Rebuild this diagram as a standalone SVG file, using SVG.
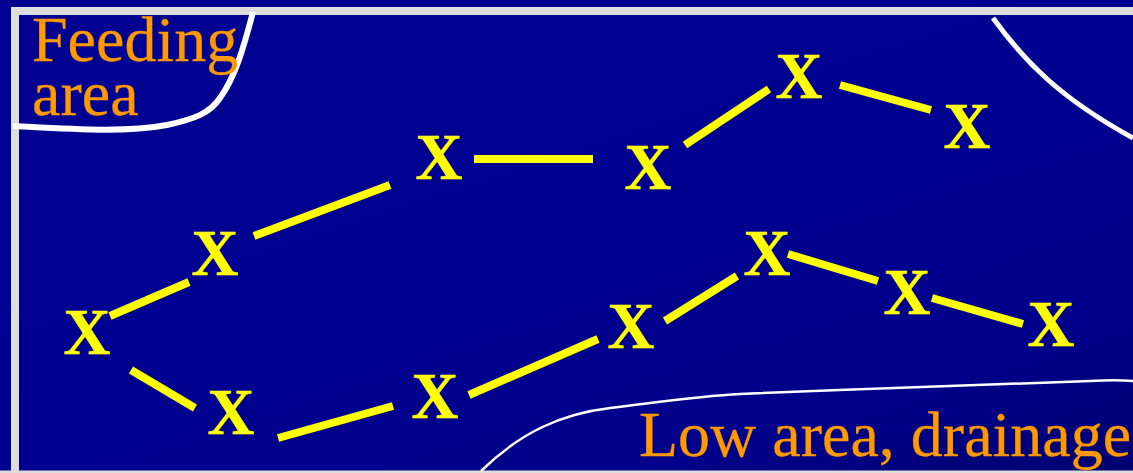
<svg xmlns="http://www.w3.org/2000/svg" width="1133" height="473" viewBox="0 0 1133 473">
<style>
.x{font:bold 65px "Liberation Serif",serif;fill:#ff0;stroke:#ff0;stroke-width:.5;text-anchor:middle}
.l{font:64px "Liberation Serif",serif;fill:#f90;stroke:#f90;stroke-width:.3}
.c{stroke:#ff0;stroke-width:8;fill:none}
.b{stroke:#fff;fill:none}
</style>
<defs><linearGradient id="g" x1="0.45" y1="0.3" x2="1" y2="1"><stop offset="0" stop-color="#000091"/><stop offset="0.7" stop-color="#00008a"/><stop offset="1" stop-color="#000070"/></linearGradient></defs>
<rect width="1133" height="473" fill="url(#g)"/>
<path d="M15 473V11H1133" fill="none" stroke="#ddd" stroke-width="8"/>
<path d="M0 472H1133" stroke="#ddd" stroke-width="3"/>
<g id="regions">
<path class="b" stroke-width="6" d="M13 126C70 129 125 133 167 125C195 119 210 113 220 98C235 77 243 50 253 12"/>
<path class="b" stroke-width="5" d="M993 18C1025 62 1060 98 1133 138"/>
<path class="b" stroke-width="2.5" d="M481 471C520 433 560 414 610 408C660 402 700 396 740 394C860 389 1000 384 1090 381C1110 380 1120 380 1133 381"/>
</g>
<g id="connectors">
<path class="c" d="M110 316L189 282"/>
<path class="c" d="M254 236L390 185"/>
<path class="c" d="M474 159H593"/>
<path class="c" d="M685 145L769 89"/>
<path class="c" d="M840 85L931 110"/>
<path class="c" d="M131 370L195 408"/>
<path class="c" d="M278 438L393 406"/>
<path class="c" d="M469 395L598 339"/>
<path class="c" d="M665 321L737 276"/>
<path class="c" d="M788 254L878 281"/>
<path class="c" d="M932 298L1023 324"/>
</g>
<g id="n1"><text class="x" x="87" y="354">X</text></g>
<g id="n2"><text class="x" x="215" y="275">X</text></g>
<g id="n3"><text class="x" x="439" y="179">X</text></g>
<g id="n4"><text class="x" x="648" y="189">X</text></g>
<g id="n5"><text class="x" x="799" y="98">X</text></g>
<g id="n6"><text class="x" x="967" y="148">X</text></g>
<g id="n7"><text class="x" x="231" y="434">X</text></g>
<g id="n8"><text class="x" x="435" y="418">X</text></g>
<g id="n9"><text class="x" x="631" y="348">X</text></g>
<g id="n10"><text class="x" x="767" y="275">X</text></g>
<g id="n11"><text class="x" x="907" y="314">X</text></g>
<g id="n12"><text class="x" x="1051" y="346">X</text></g>
<g id="labels">
<text class="l" x="32" y="61">Feeding</text>
<text class="l" x="32" y="115">area</text>
<text class="l" x="639" y="456">Low area, drainage</text>
</g>
</svg>
